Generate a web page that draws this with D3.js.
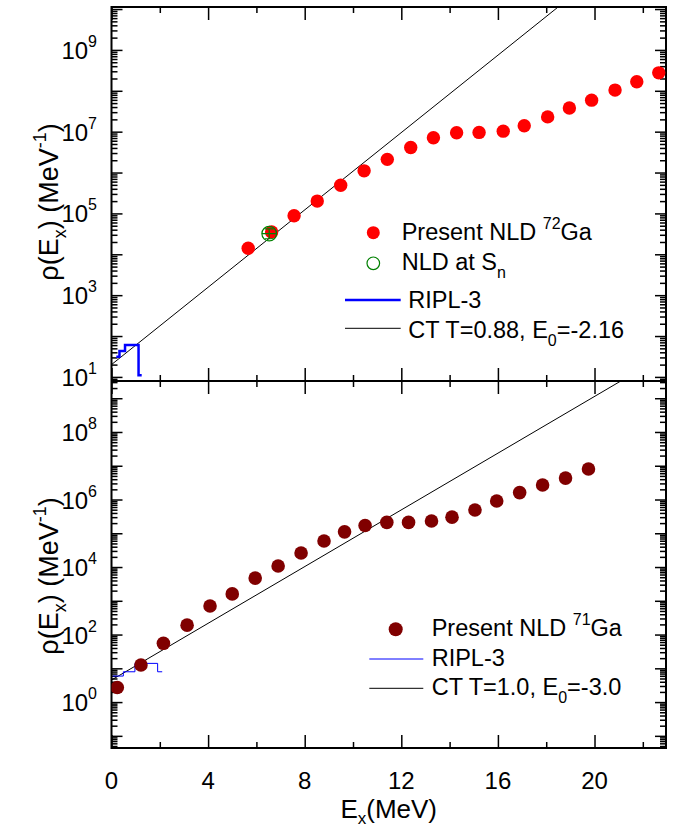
<!doctype html>
<html lang="en">
<head>
<meta charset="utf-8" />
<title>NLD 72Ga / 71Ga</title>
<script src="https://cdn.jsdelivr.net/npm/d3@7"></script>
<style>
 body { margin: 0; background: #fff; }
 svg { font-family: "Liberation Sans", Arial, sans-serif; }
 .axis line { stroke: #000; stroke-width: 1.5px; }
</style>
</head>
<body>
<svg id="chart" width="685" height="833"></svg>
<script>
// ---- data ----
// upper panel, 72Ga
var ga72E   = [5.66, 6.63, 7.56, 8.52, 9.49, 10.46, 11.42, 12.39, 13.33, 14.29, 15.22, 16.22, 17.09, 18.06, 18.96, 19.88, 20.85, 21.75, 22.66];
var ga72Rho = [1.4e4, 3.5e4, 8.8e4, 2.0e5, 4.9e5, 1.1e6, 2.1e6, 4.1e6, 7.1e6, 9.4e6, 9.6e6, 1.03e7, 1.39e7, 2.3e7, 3.8e7, 5.9e7, 1.04e8, 1.66e8, 2.75e8];
var snE = [6.53], snRho = [3.2e4], snLo = [2.4e4], snHi = [4.2e4];
var ripl72E   = [0.2, 0.33, 0.56, 1.12, 1.25];
var ripl72Rho = [31, 43, 60, 11, 11];
var ct72E   = [0, 19];
var ct72Rho = [20, 1.95e10];

// lower panel, 71Ga
var ga71E   = [0.24, 1.22, 2.15, 3.13, 4.08, 5.0, 5.95, 6.9, 7.85, 8.8, 9.65, 10.5, 11.4, 12.3, 13.25, 14.1, 15.05, 15.95, 16.9, 17.85, 18.8, 19.75];
var ga71Rho = [2.7, 12.5, 55, 190, 700, 1600, 4700, 1.07e4, 2.6e4, 5.9e4, 1.1e5, 1.7e5, 2.1e5, 2.1e5, 2.3e5, 3.0e5, 4.9e5, 9e5, 1.6e6, 2.7e6, 4.3e6, 8e6];
var ripl71E   = [0.05, 0.49, 0.97, 1.91, 2.1];
var ripl71Rho = [5.9, 7.9, 14, 7.9, 7.9];
var ct71E   = [0, 22];
var ct71Rho = [4.5, 7.8e9];

var xMajorTicks = [0, 4, 8, 12, 16, 20];
var xMinorTicks = [2, 6, 10, 14, 18, 22];
var topLabelExps = [1, 3, 5, 7, 9];
var botLabelExps = [0, 2, 4, 6, 8];

// ---- layout ----
var L = 111.5, R = 666, T1 = 7, B1 = 381, B2 = 748;
var svg = d3.select("#chart");

var x = d3.scaleLinear().domain([0, 22.96]).range([L, R]);
var yTop = d3.scaleLog().domain([Math.pow(10, 0.9), Math.pow(10, 10.05)]).range([B1, T1]);
var yBot = d3.scaleLog().domain([Math.pow(10, -1.36), Math.pow(10, 9.51)]).range([B2, B1]);

function decades(y) {
  var d = y.domain(), out = [];
  for (var n = Math.ceil(Math.log10(d[0]) - 1e-9); n <= Math.floor(Math.log10(d[1]) + 1e-9); n++) out.push(Math.pow(10, n));
  return out;
}
function minors(y) {
  var d = y.domain(), out = [];
  for (var n = Math.floor(Math.log10(d[0])); n <= Math.ceil(Math.log10(d[1])); n++)
    for (var k = 2; k <= 9; k++) {
      var v = k * Math.pow(10, n);
      if (v >= d[0] && v <= d[1]) out.push(v);
    }
  return out;
}
function noDomain(g) { g.select(".domain").remove(); }

function yAxes(y, exps) {
  [[L, d3.axisRight], [R, d3.axisLeft]].forEach(function (s) {
    svg.append("g").attr("class", "axis").attr("transform", "translate(" + s[0] + ",0)")
      .call(s[1](y).tickValues(decades(y)).tickSize(11).tickFormat("")).call(noDomain);
    svg.append("g").attr("class", "axis").attr("transform", "translate(" + s[0] + ",0)")
      .call(s[1](y).tickValues(minors(y)).tickSize(6).tickFormat("")).call(noDomain);
  });
  exps.forEach(function (e) {
    var t = svg.append("text").attr("x", 97).attr("y", y(Math.pow(10, e)) + 9)
      .attr("text-anchor", "end").attr("font-size", 24);
    t.append("tspan").text("10");
    t.append("tspan").attr("dy", -12).attr("font-size", 16).text(e);
  });
}

function xAxis(yPos, axisFn) {
  svg.append("g").attr("class", "axis").attr("transform", "translate(0," + yPos + ")")
    .call(axisFn(x).tickValues(xMajorTicks).tickSize(13).tickFormat("")).call(noDomain);
  svg.append("g").attr("class", "axis").attr("transform", "translate(0," + yPos + ")")
    .call(axisFn(x).tickValues(xMinorTicks).tickSize(6).tickFormat("")).call(noDomain);
}

yAxes(yTop, topLabelExps);
yAxes(yBot, botLabelExps);
xAxis(T1, d3.axisBottom);
xAxis(B1, d3.axisTop);
xAxis(B1, d3.axisBottom);
xAxis(B2, d3.axisTop);

svg.selectAll("text.xlab").data(xMajorTicks).enter().append("text")
  .attr("class", "xlab").attr("x", function (d) { return x(d); }).attr("y", 789)
  .attr("text-anchor", "middle").attr("font-size", 24).text(function (d) { return d; });

// frame
svg.append("rect").attr("x", L).attr("y", T1).attr("width", R - L).attr("height", B2 - T1)
  .attr("fill", "none").attr("stroke", "#000").attr("stroke-width", 2);
svg.append("line").attr("x1", L).attr("x2", R).attr("y1", B1).attr("y2", B1)
  .attr("stroke", "#000").attr("stroke-width", 2);

// clip regions
var defs = svg.append("defs");
defs.append("clipPath").attr("id", "clipTop").append("rect")
  .attr("x", L).attr("y", T1).attr("width", R - L).attr("height", B1 - T1);
defs.append("clipPath").attr("id", "clipBot").append("rect")
  .attr("x", L).attr("y", B1).attr("width", R - L).attr("height", B2 - B1);

function zip(a, b) { return a.map(function (v, i) { return [v, b[i]]; }); }

// ---- upper panel marks ----
var gTop = svg.append("g").attr("clip-path", "url(#clipTop)");
var lineTop = d3.line().x(function (d) { return x(d[0]); }).y(function (d) { return yTop(d[1]); });
gTop.append("path").datum(zip(ct72E, ct72Rho)).attr("d", lineTop)
  .attr("fill", "none").attr("stroke", "#000").attr("stroke-width", 1);
gTop.append("path").datum(zip(ripl72E, ripl72Rho)).attr("d", lineTop.curve(d3.curveStepAfter))
  .attr("fill", "none").attr("stroke", "#0000ff").attr("stroke-width", 2.5);
lineTop.curve(d3.curveLinear);
gTop.selectAll("circle.p72").data(zip(ga72E, ga72Rho)).enter().append("circle")
  .attr("class", "p72").attr("cx", function (d) { return x(d[0]); }).attr("cy", function (d) { return yTop(d[1]); })
  .attr("r", 6.7).attr("fill", "#ff0000");
snE.forEach(function (e, i) {
  var cx = x(e), cy = yTop(snRho[i]), lo = yTop(snLo[i]), hi = yTop(snHi[i]);
  var g = gTop.append("g").attr("stroke", "#008000").attr("stroke-width", 1.2).attr("fill", "none");
  g.append("circle").attr("cx", cx).attr("cy", cy).attr("r", 7.3);
  g.append("line").attr("x1", cx).attr("x2", cx).attr("y1", hi).attr("y2", lo);
  g.append("line").attr("x1", cx - 4.5).attr("x2", cx + 4.5).attr("y1", hi).attr("y2", hi);
  g.append("line").attr("x1", cx - 4.5).attr("x2", cx + 4.5).attr("y1", lo).attr("y2", lo);
  g.append("line").attr("x1", cx - 7.3).attr("x2", cx + 7.3).attr("y1", cy).attr("y2", cy);
});

// ---- lower panel marks ----
var gBot = svg.append("g").attr("clip-path", "url(#clipBot)");
var lineBot = d3.line().x(function (d) { return x(d[0]); }).y(function (d) { return yBot(d[1]); });
gBot.append("path").datum(zip(ct71E, ct71Rho)).attr("d", lineBot)
  .attr("fill", "none").attr("stroke", "#000").attr("stroke-width", 1);
gBot.append("path").datum(zip(ripl71E, ripl71Rho)).attr("d", lineBot.curve(d3.curveStepAfter))
  .attr("fill", "none").attr("stroke", "#0000ff").attr("stroke-width", 1);
gBot.selectAll("circle.p71").data(zip(ga71E, ga71Rho)).enter().append("circle")
  .attr("class", "p71").attr("cx", function (d) { return x(d[0]); }).attr("cy", function (d) { return yBot(d[1]); })
  .attr("r", 6.8).attr("fill", "#800000");

// ---- legends ----
function legText(xp, yp, parts) {
  var t = svg.append("text").attr("x", xp).attr("y", yp).attr("font-size", 23.5);
  var shift = 0;
  parts.forEach(function (p) {
    var s = t.append("tspan").text(p.t);
    var want = p.sup ? -11 : p.sub ? 8 : 0;
    if (want !== shift) { s.attr("dy", want - shift); shift = want; }
    if (p.sup || p.sub) s.attr("font-size", 16);
  });
}
svg.append("circle").attr("cx", 373.3).attr("cy", 232.7).attr("r", 6.5).attr("fill", "#ff0000");
legText(401.7, 240, [{t: "Present NLD "}, {t: "72", sup: 1}, {t: "Ga"}]);
svg.append("circle").attr("cx", 373.3).attr("cy", 263.3).attr("r", 6.3)
  .attr("fill", "none").attr("stroke", "#008000").attr("stroke-width", 1.2);
legText(401.7, 270, [{t: "NLD at S"}, {t: "n", sub: 1}]);
svg.append("line").attr("x1", 345).attr("x2", 400.7).attr("y1", 300).attr("y2", 300)
  .attr("stroke", "#0000ff").attr("stroke-width", 2.5);
legText(408.3, 308, [{t: "RIPL-3"}]);
svg.append("line").attr("x1", 345).attr("x2", 400.7).attr("y1", 328.3).attr("y2", 328.3)
  .attr("stroke", "#000").attr("stroke-width", 1);
legText(408.3, 338, [{t: "CT T=0.88, E"}, {t: "0", sub: 1}, {t: "=-2.16"}]);

svg.append("circle").attr("cx", 395.7).attr("cy", 629.3).attr("r", 7).attr("fill", "#800000");
legText(431.7, 636, [{t: "Present NLD "}, {t: "71", sup: 1}, {t: "Ga"}]);
svg.append("line").attr("x1", 369.3).attr("x2", 423.3).attr("y1", 659).attr("y2", 659)
  .attr("stroke", "#0000ff").attr("stroke-width", 1);
legText(431.7, 666, [{t: "RIPL-3"}]);
svg.append("line").attr("x1", 369.3).attr("x2", 423.3).attr("y1", 688.3).attr("y2", 688.3)
  .attr("stroke", "#000").attr("stroke-width", 1);
legText(431.7, 695, [{t: "CT T=1.0, E"}, {t: "0", sub: 1}, {t: "=-3.0"}]);

// ---- axis titles ----
function yTitle(cy) {
  var t = svg.append("text").attr("transform", "translate(58," + cy + ") rotate(-90)")
    .attr("text-anchor", "middle").attr("font-size", 27);
  t.append("tspan").text("\u03c1(E");
  t.append("tspan").attr("dy", 8).attr("font-size", 18).text("x");
  t.append("tspan").attr("dy", -8).text(") (MeV");
  t.append("tspan").attr("dy", -12).attr("font-size", 18).text("-1");
  t.append("tspan").attr("dy", 12).text(")");
}
yTitle(202);
yTitle(576);

var xt = svg.append("text").attr("x", 388.7).attr("y", 818).attr("text-anchor", "middle").attr("font-size", 26);
xt.append("tspan").text("E");
xt.append("tspan").attr("dy", 6).attr("font-size", 17).text("x");
xt.append("tspan").attr("dy", -6).text("(MeV)");
</script>
</body>
</html>
